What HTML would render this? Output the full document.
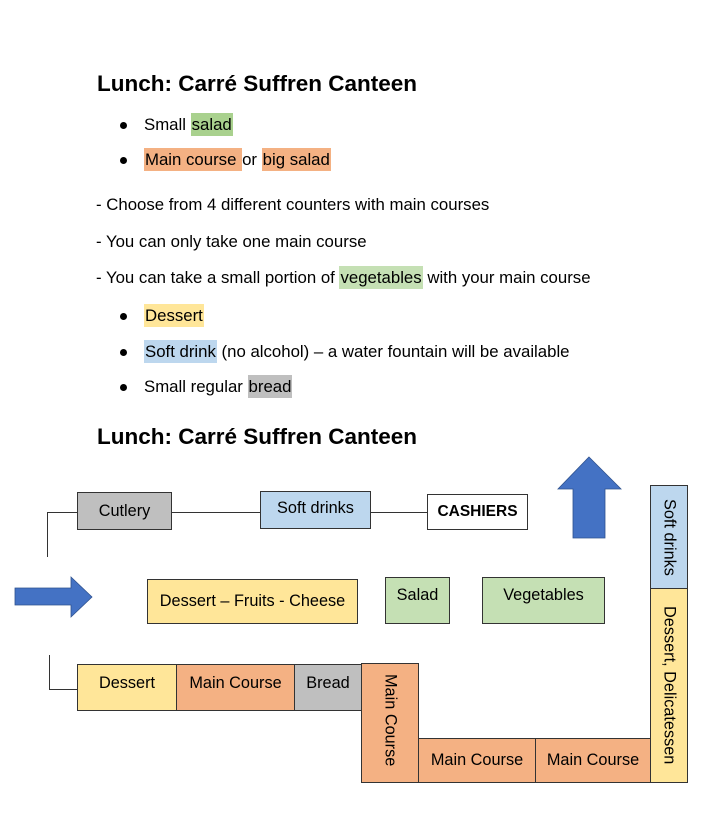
<!DOCTYPE html>
<html><head><meta charset="utf-8"><style>
*{margin:0;padding:0;box-sizing:border-box}
body{width:720px;height:839px;background:#fff;position:relative;font-family:"Liberation Sans",sans-serif;color:#000;overflow:hidden}
.t{position:absolute;white-space:nowrap;font-size:16.8px;line-height:20px}
.h{position:absolute;white-space:nowrap;font-weight:bold;font-size:22.5px;line-height:26px}
.dot{position:absolute;width:7px;height:7px;border-radius:50%;background:#000}
.hl{padding:2px 1px}
.g{background:#a9d18e}.o{background:#f4b183}.lg{background:#c5e0b4}.y{background:#ffe699}.b{background:#bdd7ee}.gr{background:#bfbfbf}
.bx{position:absolute;border:1.5px solid #333;display:flex;align-items:center;justify-content:center;font-size:16.3px;white-space:nowrap}
.ln{position:absolute;background:#333}
.v{writing-mode:vertical-rl}
</style></head><body>
<div class="h" style="left:97px;top:71px">Lunch: Carré Suffren Canteen</div>
<div class="dot" style="left:120px;top:122px"></div>
<div class="t" style="left:144px;top:115px">Small <span class="hl g">salad</span></div>
<div class="dot" style="left:120px;top:157px"></div>
<div class="t" style="left:144px;top:150px"><span class="hl o">Main course </span>or <span class="hl o">big salad</span></div>
<div class="t" style="left:96px;top:195px">- Choose from 4 different counters with main courses</div>
<div class="t" style="left:96px;top:232px">- You can only take one main course</div>
<div class="t" style="left:96px;top:268px">- You can take a small portion of <span class="hl lg">vegetables</span> with your main course</div>
<div class="dot" style="left:120px;top:313px"></div>
<div class="t" style="left:144px;top:306px"><span class="hl y">Dessert</span></div>
<div class="dot" style="left:120px;top:349px"></div>
<div class="t" style="left:144px;top:342px"><span class="hl b">Soft drink</span> (no alcohol) – a water fountain will be available</div>
<div class="dot" style="left:120px;top:384px"></div>
<div class="t" style="left:144px;top:377px">Small regular <span class="hl gr">bread</span></div>
<div class="h" style="left:97px;top:424px">Lunch: Carré Suffren Canteen</div>

<div class="ln" style="left:47px;top:512px;width:30px;height:1px"></div>
<div class="ln" style="left:47px;top:512px;width:1px;height:45px"></div>
<div class="ln" style="left:171px;top:512px;width:89px;height:1px"></div>
<div class="ln" style="left:370px;top:512px;width:57px;height:1px"></div>
<div class="ln" style="left:49px;top:655px;width:1px;height:34px"></div>
<div class="ln" style="left:49px;top:689px;width:28px;height:1px"></div>

<div class="bx gr" style="left:77px;top:492px;width:95px;height:38px">Cutlery</div>
<div class="bx b" style="left:260px;top:491px;width:111px;height:38px;align-items:flex-start;padding-top:7px">Soft drinks</div>
<div class="bx" style="left:427px;top:494px;width:101px;height:36px;font-weight:bold;font-size:15.5px">CASHIERS</div>
<div class="bx y" style="left:147px;top:579px;width:211px;height:45px">Dessert – Fruits - Cheese</div>
<div class="bx lg" style="left:385px;top:577px;width:65px;height:47px;align-items:flex-start;padding-top:8px">Salad</div>
<div class="bx lg" style="left:482px;top:577px;width:123px;height:47px;align-items:flex-start;padding-top:8px">Vegetables</div>

<div class="bx y" style="left:77px;top:664px;width:100px;height:47px;align-items:flex-start;padding-top:9px">Dessert</div>
<div class="bx o" style="left:176px;top:664px;width:119px;height:47px;align-items:flex-start;padding-top:9px">Main Course</div>
<div class="bx gr" style="left:294px;top:664px;width:68px;height:47px;align-items:flex-start;padding-top:9px">Bread</div>
<div class="bx o v" style="left:361px;top:663px;width:58px;height:120px;justify-content:flex-start;align-items:center;padding-top:10px">Main Course</div>
<div class="bx o" style="left:418px;top:738px;width:118px;height:45px">Main Course</div>
<div class="bx o" style="left:535px;top:738px;width:116px;height:45px">Main Course</div>
<div class="bx b v" style="left:650px;top:485px;width:38px;height:104px">Soft drinks</div>
<div class="bx y v" style="left:650px;top:588px;width:38px;height:195px">Dessert, Delicatessen</div>

<svg style="position:absolute;left:0;top:0" width="720" height="839">
<polygon points="15,588 71,588 71,577 92,597 71,617 71,605 15,605" fill="#4472c4" stroke="#2f528f" stroke-width="0.8"/>
<polygon points="589,457 621,489 605,489 605,538 573,538 573,489 558,489" fill="#4472c4" stroke="#2f528f" stroke-width="0.8"/>
</svg>
</body></html>
